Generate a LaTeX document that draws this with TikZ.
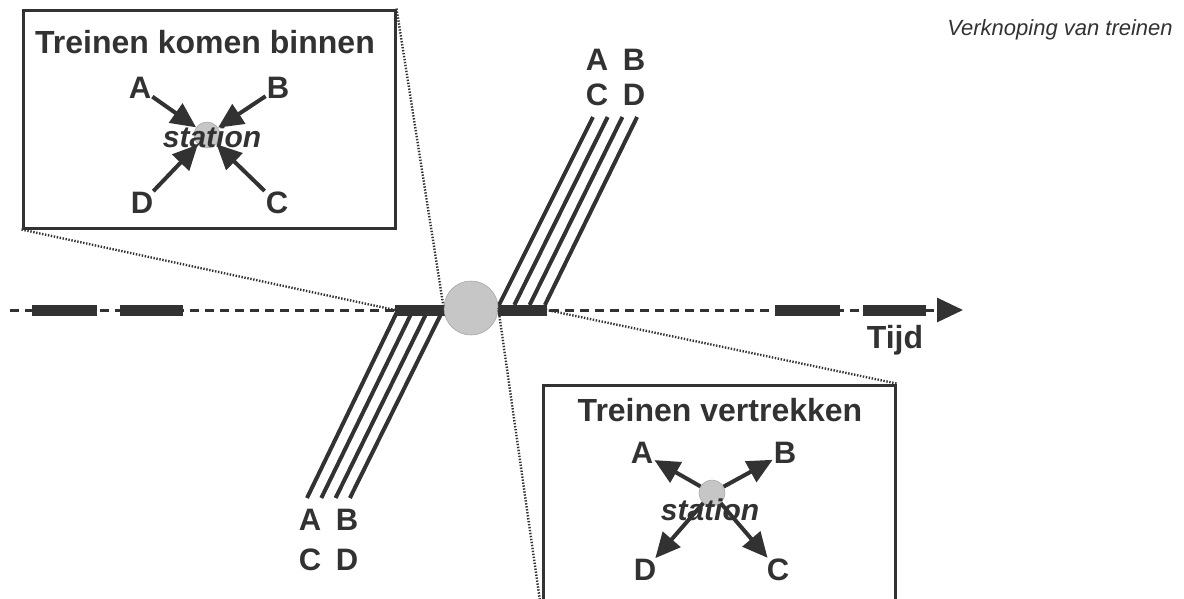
\documentclass[tikz,border=0pt]{standalone}
\usepackage{fontspec}
\setmainfont{Liberation Sans}
\usetikzlibrary{arrows.meta}
\definecolor{ink}{RGB}{50,50,50}
\definecolor{grijs}{RGB}{198,198,198}
\tikzstyle{kader} = [
    rectangle,
    draw=ink,
    line width=3pt,
    fill=white,
    inner sep=0pt
]
\tikzstyle{titel} = [
    font=\fontsize{32}{38}\selectfont\bfseries,
    text=ink
]
\tikzstyle{letter} = [
    font=\fontsize{31}{36}\selectfont\bfseries,
    text=ink,
    inner sep=1pt
]
\tikzstyle{stationtekst} = [
    font=\fontsize{30}{34}\selectfont\bfseries\itshape,
    text=ink
]
\tikzstyle{halte} = [
    circle,
    fill=grijs,
    draw=grijs!85!black,
    line width=0.6pt,
    minimum size=26pt,
    inner sep=0pt
]
\tikzstyle{arrow} = [draw=ink, line width=4pt, -{Triangle[length=25pt,width=23pt]}]
\tikzstyle{zoomlijn} = [draw=ink, line width=2.4pt, dash pattern=on 1.4pt off 1.6pt]
\tikzstyle{spoor} = [draw=ink, line width=4pt]
\tikzstyle{blok} = [draw=ink, line width=11pt]
\tikzstyle{tijdlijn} = [draw=ink, line width=3pt, dash pattern=on 9pt off 6pt]
\begin{document}
\begin{tikzpicture}[x=1pt, y=-1pt]

\useasboundingbox (0,0) rectangle (1184,598);
\clip (0,0) rectangle (1184,598);

\node (kop) [font=\fontsize{22}{26}\selectfont\itshape, text=ink] at (1060,30)
{Verknoping van treinen};

% tijdas
\coordinate (tStart) at (10,310);
\coordinate (tEnd) at (963,310);
\draw [tijdlijn, -{Triangle[length=26pt,width=24pt]}] (tStart) -- (tEnd);
\foreach \a/\b in {32/97, 120/183, 775/840, 863/926}
    \draw [blok] (\a,310) -- (\b,310);
\node (tijd) [titel] at (895,340) {Tijd};

% sporen
\foreach \i in {0,...,3}
    \draw [spoor] ({499+15.3*\i},305) -- ({593+14.7*\i},117);
\foreach \i in {0,...,3}
    \draw [spoor] ({397+15*\i},312) -- ({307+14.3*\i},498);

\coordinate (blokLa) at (395,310);
\coordinate (blokLb) at (445,310);
\coordinate (blokRa) at (498,310);
\coordinate (blokRb) at (547,310);
\draw [blok] (blokLa) -- (blokLb);
\draw [blok] (blokRa) -- (blokRb);

\node (knoop) [halte, minimum size=54pt] at (471,308) {};

\node (aA) [letter] at (597,60) {A};
\node (aB) [letter] at (634,60) {B};
\node (aC) [letter] at (597,95) {C};
\node (aD) [letter] at (634,95) {D};
\node (vA) [letter] at (310,520) {A};
\node (vB) [letter] at (347,520) {B};
\node (vC) [letter] at (310,560) {C};
\node (vD) [letter] at (347,560) {D};

% uitvergroting
\node (kaderIn) [kader, minimum width=372pt, minimum height=218pt] at (209,119) {};
\node (kaderUit) [kader, minimum width=352pt, minimum height=225pt] at (719,497.5) {};
\draw [zoomlijn] (kaderIn.north east) -- (knoop.west);
\draw [zoomlijn] (kaderIn.south west) -- (blokLa);
\draw [zoomlijn] (kaderUit.north east) -- (blokRb);
\draw [zoomlijn] (kaderUit.south west) -- (knoop.east);

% treinen komen binnen
\node (titelIn) [titel] at (205,42) {Treinen komen binnen};
\node (inStation) [halte] at (207,135) {};
\node (inA) [letter] at (140,88) {A};
\node (inB) [letter] at (278,88) {B};
\node (inD) [letter] at (142,203) {D};
\node (inC) [letter] at (277,203) {C};
\draw [arrow] (inA) -- (inStation);
\draw [arrow] (inB) -- (inStation);
\draw [arrow] (inC) -- (inStation);
\draw [arrow] (inD) -- (inStation);
\node (inTekst) [stationtekst] at (212,137) {station};

% treinen vertrekken
\node (titelUit) [titel] at (720,410) {Treinen vertrekken};
\node (uitStation) [halte] at (712,493) {};
\node (uitA) [letter] at (642,453) {A};
\node (uitB) [letter] at (785,453) {B};
\node (uitD) [letter] at (645,570) {D};
\node (uitC) [letter] at (778,570) {C};
\draw [arrow] (uitStation) -- (uitA);
\draw [arrow] (uitStation) -- (uitB);
\draw [arrow] (uitStation) -- (uitC);
\draw [arrow] (uitStation) -- (uitD);
\node (uitTekst) [stationtekst] at (710,510) {station};

\end{tikzpicture}
\end{document}
